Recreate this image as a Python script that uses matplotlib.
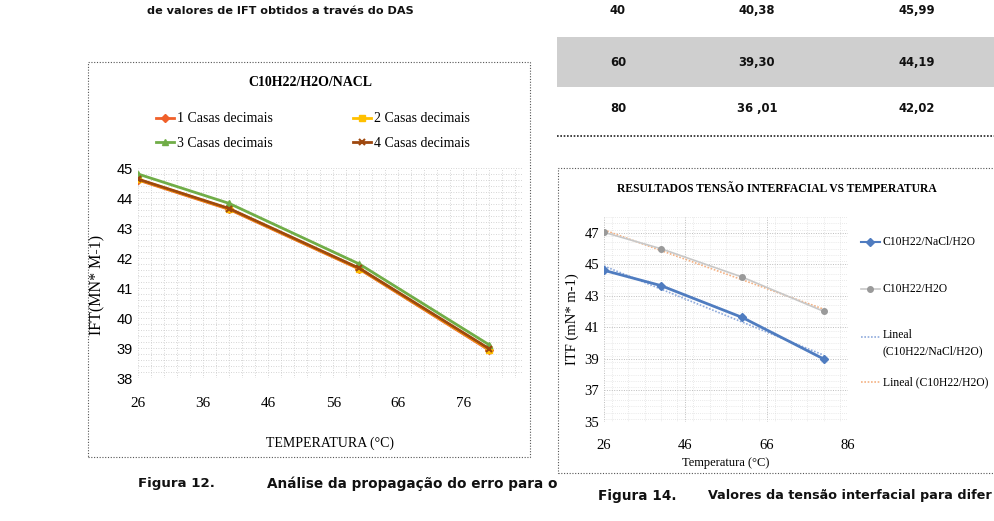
import numpy as np
import matplotlib
matplotlib.use("Agg")
import matplotlib.pyplot as plt
from matplotlib.patches import Rectangle
from matplotlib.lines import Line2D
from matplotlib.ticker import MultipleLocator

W, H = 995, 521

# left chart: error propagation, C10H22/H2O/NACL
temp_left = [26, 40, 60, 80]
casas_1 = [44.60, 43.62, 41.63, 38.92]
casas_2 = [44.62, 43.64, 41.65, 38.95]
casas_3 = [44.80, 43.82, 41.80, 39.10]
casas_4 = [44.63, 43.65, 41.66, 38.97]
casas_labels = ["1 Casas decimais", "2 Casas decimais", "3 Casas decimais", "4 Casas decimais"]

# right chart: interfacial tension vs temperature
temp_right = [26, 40, 60, 80]
ift_nacl = [44.62, 43.65, 41.63, 39.00]
ift_h2o = [47.03, 45.99, 44.19, 42.02]
right_labels = ["C10H22/NaCl/H2O", "C10H22/H2O", "Lineal\n(C10H22/NaCl/H2O)", "Lineal (C10H22/H2O)"]

# table fragment at top right
table_rows = [
    ["40", "40,38", "45,99"],
    ["60", "39,30", "44,19"],
    ["80", "36 ,01", "42,02"],
]

SERIF = "Liberation Serif"
SANS = "Liberation Sans"


def fx(x):
    return x / W


def fy(y):
    return 1 - y / H


def axes_px(fig, left, top, right, bottom):
    return fig.add_axes([fx(left), fy(bottom), (right - left) / W, (bottom - top) / H])


def frame(fig, left, top, right, bottom):
    fig.patches.append(Rectangle((fx(left), fy(bottom)), (right - left) / W, (bottom - top) / H,
                                 transform=fig.transFigure, fill=False, ec="#555555",
                                 lw=0.8, ls=(0, (1, 1.5))))


fig = plt.figure(figsize=(W / 100, H / 100), dpi=100)
fig.patch.set_facecolor("white")

# ---- page text ----
bold_page = dict(family="DejaVu Sans", weight="bold", color="#111111")
fig.text(fx(280), fy(11), "de valores de IFT obtidos a través do DAS", ha="center", va="center",
         fontsize=8.1, **bold_page)
fig.text(fx(138), fy(484), "Figura 12.", ha="left", va="center", fontsize=9.6, **bold_page)
fig.text(fx(267), fy(484), "Análise da propagação do erro para o", ha="left", va="center",
         fontsize=9.8, **bold_page)
fig.text(fx(598), fy(496), "Figura 14.", ha="left", va="center", fontsize=9.8, **bold_page)
fig.text(fx(708), fy(496), "Valores da tensão interfacial para difer", ha="left", va="center",
         fontsize=9.2, **bold_page)

# table fragment
fig.patches.append(Rectangle((fx(557), fy(87)), (995 - 557) / W, 50 / H,
                             transform=fig.transFigure, color="#cfcfcf", lw=0))
fig.lines.append(Line2D([fx(557), fx(995)], [fy(136), fy(136)], transform=fig.transFigure,
                        color="#222222", lw=1.2, ls=(0, (1, 1))))
for row, ypix in zip(table_rows, [10, 62, 109]):
    for cell, xpix in zip(row, [618, 757, 917]):
        fig.text(fx(xpix), fy(ypix), cell, ha="center", va="center", fontsize=8.4, **bold_page)

# ---- left chart ----
frame(fig, 88, 62, 530, 457)
ax1 = axes_px(fig, 138, 168, 522, 378)
styles = [
    dict(color="#F0602A", marker="D", ms=4),
    dict(color="#FFC000", marker="s", ms=4),
    dict(color="#70AD47", marker="^", ms=5),
    dict(color="#9E480E", marker="x", ms=5, mew=1.5),
]
handles = []
for vals, lab, st in zip([casas_1, casas_2, casas_3, casas_4], casas_labels, styles):
    h, = ax1.plot(temp_left, vals, lw=2, label=lab, **st)
    handles.append(h)
ax1.set_xlim(26, 85)
ax1.set_ylim(38, 45)
ax1.xaxis.set_minor_locator(MultipleLocator(2))
ax1.yaxis.set_major_locator(MultipleLocator(1))
ax1.yaxis.set_minor_locator(MultipleLocator(0.2))
ax1.set_xticks([26, 36, 46, 56, 66, 76])
ax1.grid(which="both", color="#c8c8c8", lw=0.6, ls=(0, (1, 2)))
for s in ax1.spines.values():
    s.set_visible(False)
ax1.tick_params(which="both", length=0)
ax1.tick_params(axis="x", pad=14)
for t in ax1.get_xticklabels():
    t.set_fontfamily(SERIF)
    t.set_fontsize(11)
for t in ax1.get_yticklabels():
    t.set_fontfamily(SANS)
    t.set_fontsize(10.5)
ax1.set_xlabel("TEMPERATURA (°C)", family=SERIF, fontsize=10, labelpad=19)
ax1.set_ylabel("IFT(MN* M-1)", family=SERIF, fontsize=11.5)
ax1.yaxis.set_label_coords(-0.086, 0.443)
fig.text(fx(310), fy(83), "C10H22/H2O/NACL", ha="center", va="center", family=SERIF,
         weight="bold", fontsize=10)
# row order: 1, 2 / 3, 4
ax1.legend([handles[0], handles[2], handles[1], handles[3]],
           [casas_labels[0], casas_labels[2], casas_labels[1], casas_labels[3]],
           loc="center", bbox_to_anchor=(fx(313), fy(131)), bbox_transform=fig.transFigure,
           ncol=2, frameon=False, prop=dict(family=SERIF, size=10), handlelength=1.3,
           handletextpad=0.2, columnspacing=5.8, labelspacing=0.8)

# ---- right chart ----
frame(fig, 558, 168, 1000, 473)
ax2 = axes_px(fig, 604, 217, 848, 422)
nacl_style = dict(color="#4F7CC0", lw=2, marker="D", ms=4)
h2o_style = dict(color="#C8C8C8", lw=1.2, marker="o", ms=4, mfc="#9a9a9a", mec="#9a9a9a")
trend_n_style = dict(color="#8FAADC", lw=1.2, ls=(0, (1, 1)))
trend_h_style = dict(color="#F4B183", lw=1.2, ls=(0, (1, 1)))
ax2.plot(temp_right, ift_nacl, zorder=4, **nacl_style)
ax2.plot(temp_right, ift_h2o, zorder=3, **h2o_style)
xx = np.array([26, 80])
fit_n = np.polyfit(temp_right, ift_nacl, 1)
fit_h = np.polyfit(temp_right, ift_h2o, 1)
ax2.plot(xx, np.polyval(fit_n, xx), zorder=2, **trend_n_style)
ax2.plot(xx, np.polyval(fit_h, xx), zorder=2, **trend_h_style)
ax2.set_xlim(26, 86)
ax2.set_ylim(35, 48)
ax2.set_xticks([26, 46, 66, 86])
ax2.set_yticks([35, 37, 39, 41, 43, 45, 47])
ax2.xaxis.set_minor_locator(MultipleLocator(4))
ax2.yaxis.set_minor_locator(MultipleLocator(0.4))
ax2.grid(which="major", color="#bdbdbd", lw=0.7, ls=(0, (1, 1.5)))
ax2.grid(which="minor", color="#d6d6d6", lw=0.5, ls=(0, (1, 2)))
for s in ax2.spines.values():
    s.set_visible(False)
ax2.tick_params(which="both", length=0)
ax2.tick_params(axis="x", pad=12)
for t in ax2.get_xticklabels() + ax2.get_yticklabels():
    t.set_fontfamily(SERIF)
    t.set_fontsize(10.5)
ax2.set_xlabel("Temperatura (°C)", family=SERIF, fontsize=9, labelpad=4)
ax2.set_ylabel("ITF (mN* m-1)", family=SERIF, fontsize=10.5, labelpad=4)
fig.text(fx(777), fy(189), "RESULTADOS TENSÃO INTERFACIAL VS TEMPERATURA", ha="center",
         va="center", family=SERIF, weight="bold", fontsize=8.4)

# legend placed by hand, Excel spreads the entries unevenly
leg_styles = [nacl_style, h2o_style, trend_n_style, trend_h_style]
leg_y = [242, 289, 337, 382]
for lab, st, ypix in zip(right_labels, leg_styles, leg_y):
    fig.lines.append(Line2D([fx(861), fx(880)], [fy(ypix), fy(ypix)], transform=fig.transFigure,
                            color=st["color"], lw=min(st["lw"], 1.5), ls=st.get("ls", "-")))
    if "marker" in st:
        fig.lines.append(Line2D([fx(870.5)], [fy(ypix)], transform=fig.transFigure, ls="none",
                                marker=st["marker"], ms=st["ms"],
                                mfc=st.get("mfc", st["color"]), mec=st.get("mec", st["color"])))
    if "\n" in lab:
        fig.text(fx(883), fy(ypix - 8), lab, ha="left", va="top", family=SERIF, fontsize=8.4,
                 linespacing=1.45)
    else:
        fig.text(fx(883), fy(ypix), lab, ha="left", va="center", family=SERIF, fontsize=8.4)

fig.savefig("out.png", dpi=100)
